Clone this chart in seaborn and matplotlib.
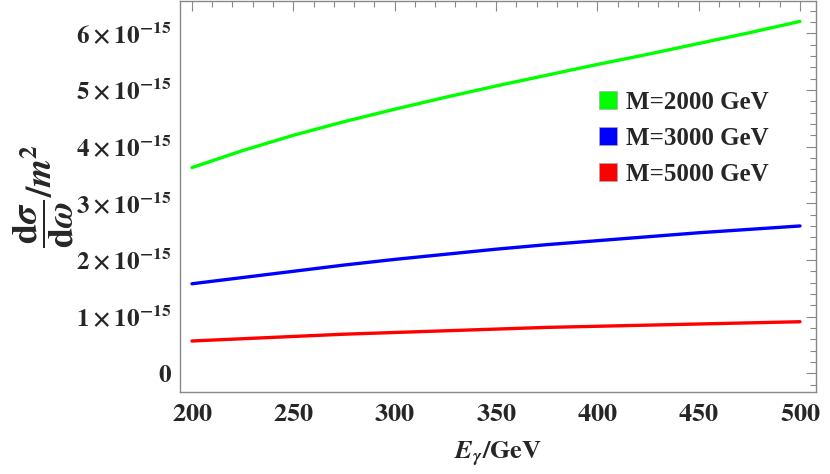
import numpy as np
import pandas as pd
import matplotlib
matplotlib.use("Agg")
import matplotlib.pyplot as plt
import seaborn as sns
from matplotlib.ticker import MultipleLocator, FixedLocator, FuncFormatter
from matplotlib.lines import Line2D

energy = [200, 225, 250, 275, 300, 325, 350, 375, 400, 425, 450, 475, 500]
m2000 = [3.63, 3.93, 4.20, 4.44, 4.66, 4.87, 5.07, 5.26, 5.45, 5.63, 5.82, 6.01, 6.21]
m3000 = [1.58, 1.69, 1.80, 1.91, 2.01, 2.10, 2.19, 2.27, 2.34, 2.41, 2.48, 2.54, 2.60]
m5000 = [0.57, 0.61, 0.65, 0.69, 0.72, 0.75, 0.78, 0.81, 0.83, 0.85, 0.87, 0.89, 0.91]
labels = ["M=2000 GeV", "M=3000 GeV", "M=5000 GeV"]
colors = ["#00ff00", "#0000ff", "#ff0000"]
yticks = [0, 1, 2, 3, 4, 5, 6]
scale = 1e-15

rows = []
for lab, vals in zip(labels, [m2000, m3000, m5000]):
    for e, v in zip(energy, vals):
        rows.append({"E": e, "val": v * scale, "M": lab})
df = pd.DataFrame(rows)

sns.set_style("white")
plt.rcParams["font.family"] = ["Liberation Serif", "DejaVu Serif"]
plt.rcParams["font.weight"] = "bold"
plt.rcParams["mathtext.fontset"] = "stix"

fig = plt.figure(figsize=(8.3, 4.74), dpi=100)
ax = fig.add_axes([180/830, 1 - 392/474, (816 - 180)/830, (392 - 1)/474])

sns.lineplot(data=df, x="E", y="val", hue="M", palette=colors, linewidth=2.4,
             ax=ax, legend=False)

ax.set_xlim(194.1, 507.9)
ax.set_ylim(-0.33e-15, 6.57e-15)
ax.xaxis.set_major_locator(FixedLocator([200, 250, 300, 350, 400, 450, 500]))
ax.xaxis.set_minor_locator(MultipleLocator(10))
ax.yaxis.set_major_locator(FixedLocator([t * scale for t in yticks]))
ax.yaxis.set_minor_locator(MultipleLocator(0.2e-15))

def yfmt(v, pos):
    k = int(round(v / scale))
    if k == 0:
        return r"$\mathbf{0}$"
    return r"$\mathbf{%d\times10^{-15}}$" % k

ax.yaxis.set_major_formatter(FuncFormatter(yfmt))
ax.xaxis.set_major_formatter(FuncFormatter(lambda v, p: r"$\mathbf{%d}$" % v))

for s in ax.spines.values():
    s.set_color("#888888")
    s.set_linewidth(1.0)
ax.tick_params(which="both", direction="in", top=True, right=True,
               color="#888888", width=0.8)
ax.tick_params(which="major", length=7)
ax.tick_params(which="minor", length=4)
ax.tick_params(axis="x", labelsize=19, pad=8)
ax.tick_params(axis="y", labelsize=18, pad=6)

ax.set_xlabel(r"$\mathbfit{E}_{\mathbfit{\gamma}}\mathbf{/GeV}$", fontsize=19, labelpad=10)
ax.set_ylabel(r"$\dfrac{\mathbf{d}\mathbfit{\sigma}}{\mathbf{d}\mathbfit{\omega}}\mathbf{/}\mathbfit{m}^{\mathbf{2}}$",
              fontsize=26, labelpad=0)

handles = [Line2D([], [], linestyle="none", marker="s", markersize=13,
                  markerfacecolor=c, markeredgecolor="#aaaaaa", markeredgewidth=0.5)
           for c in colors]
leg = ax.legend(handles, labels, loc="upper left", bbox_to_anchor=(0.63, 0.803),
                frameon=False, prop={"family": "Liberation Serif", "weight": "bold", "size": 18},
                handletextpad=0.1, labelspacing=0.53, handlelength=1.2, borderpad=0)

fig.savefig("out.png", dpi=100)
